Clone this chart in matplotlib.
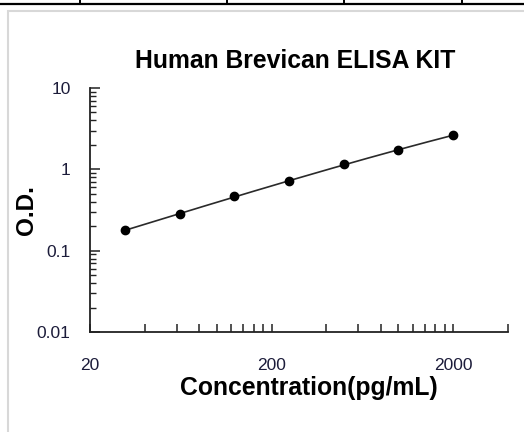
import numpy as np
import matplotlib
matplotlib.use("Agg")
import matplotlib.pyplot as plt
from matplotlib.lines import Line2D
from matplotlib.patches import Rectangle
from matplotlib.ticker import FixedLocator, NullFormatter

title = "Human Brevican ELISA KIT"
xlabel = "Concentration(pg/mL)"
ylabel = "O.D."
conc = [31.25, 62.5, 125, 250, 500, 1000, 2000]
od = [0.179, 0.282, 0.466, 0.711, 1.16, 1.71, 2.64]
xticks = [20, 200, 2000]
xticklabels = ["20", "200", "2000"]
yticks = [0.01, 0.1, 1, 10]
yticklabels = ["0.01", "0.1", "1", "10"]

W, H, DPI = 524, 432, 100
fig = plt.figure(figsize=(W / DPI, H / DPI), dpi=DPI)
fig.patch.set_facecolor("white")

# page decorations: table line at top and light gray frame
fig.add_artist(Line2D([0, 1], [1 - 4 / H, 1 - 4 / H], transform=fig.transFigure, color="black", lw=1.6))
for vx in [79.5, 227, 344, 461.5]:
    fig.add_artist(Line2D([vx / W, vx / W], [1, 1 - 4 / H], transform=fig.transFigure, color="black", lw=1.4))
fig.add_artist(Rectangle((8 / W, -0.1), 1.2, 1 - 11 / H + 0.1, transform=fig.transFigure,
                         fill=False, edgecolor="#d8d8d8", lw=1.5))

ax = fig.add_axes([90 / W, 1 - 332 / H, (507.7 - 90) / W, (332 - 88) / H])
ax.set_xscale("log")
ax.set_yscale("log")
ax.set_xlim(20, 4000)
ax.set_ylim(0.01, 10)

# fitted curve in log-log space
lx = np.log10(conc)
ly = np.log10(od)
coef = np.polyfit(lx, ly, 3)
xs = np.linspace(lx[0], lx[-1], 200)
ax.plot(10 ** xs, 10 ** np.polyval(coef, xs), color="#2a2a2a", lw=1.2, zorder=2)
ax.plot(conc, od, "o", color="black", ms=6, zorder=3)

for s in ["top", "right"]:
    ax.spines[s].set_visible(False)
for s in ["left", "bottom"]:
    ax.spines[s].set_linewidth(1.3)
    ax.spines[s].set_color("#222222")

tick_color = "#1c1c3a"
ax.xaxis.set_major_locator(FixedLocator(xticks))
ax.set_xticklabels(xticklabels)
xminor = [v * m for v in [20, 200] for m in range(2, 11)] + [4000]
xminor = [v for v in xminor if v not in xticks]
ax.xaxis.set_minor_locator(FixedLocator(xminor))
ax.xaxis.set_minor_formatter(NullFormatter())
ax.yaxis.set_major_locator(FixedLocator(yticks))
ax.set_yticklabels(yticklabels)
yminor = [v * m for v in [0.01, 0.1, 1] for m in range(2, 10)]
ax.yaxis.set_minor_locator(FixedLocator(yminor))
ax.yaxis.set_minor_formatter(NullFormatter())

ax.tick_params(axis="x", which="both", direction="in", length=6, width=1.1, color="#222222",
               pad=19, labelsize=12.5, labelcolor=tick_color)
ax.tick_params(axis="y", which="major", direction="in", length=7, width=1.1, color="#222222",
               pad=14, labelsize=12.5, labelcolor=tick_color)
ax.tick_params(axis="y", which="minor", direction="in", length=4.5, width=1.0, color="#222222")
for lab in ax.get_xticklabels() + ax.get_yticklabels():
    lab.set_fontfamily("Liberation Sans")

fig.text(295 / W, 1 - 61 / H, title, ha="center", va="center", fontsize=17.8,
         fontweight="bold", family="Liberation Sans")
fig.text(309 / W, 1 - 388 / H, xlabel, ha="center", va="center", fontsize=17.8,
         fontweight="bold", family="Liberation Sans")
fig.text(27 / W, 1 - 210 / H, ylabel, ha="center", va="center", rotation=90, fontsize=17.5,
         fontweight="bold", family="Liberation Sans")

fig.savefig("out.png", dpi=DPI)
